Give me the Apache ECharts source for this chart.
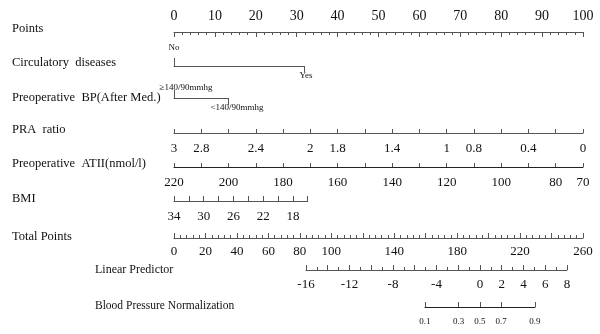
<!DOCTYPE html>
<html>
<head>
<meta charset="utf-8">
<script src="https://cdn.jsdelivr.net/npm/echarts@6/dist/echarts.min.js"></script>
<style>
  html, body { margin: 0; padding: 0; background: #fff; }
  #nomogram { width: 600px; height: 334px; }
</style>
</head>
<body>
<div id="nomogram"></div>
<script>
// values
var pointsRange = [0, 100];
var circLevels = ['No', 'Yes'];
var circPoints = [0, 31.8];
var bpLevels = ['\u2265140/90mmhg', '<140/90mmhg'];
var bpPoints = [0, 13.2];
var praRange = [3, 0];
var praLabels = [3, 2.8, 2.4, 2, 1.8, 1.4, 1, 0.8, 0.4, 0];
var atiiRange = [220, 70];
var atiiLabels = [220, 200, 180, 160, 140, 120, 100, 80, 70];
var bmiRange = [34, 16];
var bmiPoints = [0, 32.7];
var bmiLabels = [34, 30, 26, 22, 18];
var totalRange = [0, 260];
var totalLabels = [0, 20, 40, 60, 80, 100, 140, 180, 220, 260];
var lpRange = [-16, 8];
var lpTotalPoints = [83.9, 249.8];
var lpLabels = [-16, -12, -8, -4, 0, 2, 4, 6, 8];
var probTicks = [0.1, 0.3, 0.5, 0.7, 0.9];
var probLP = [-5.06, 5.06];

var rowNames = ['Points', 'Circulatory  diseases', 'Preoperative  BP(After Med.)', 'PRA  ratio',
    'Preoperative  ATII(nmol/l)', 'BMI', 'Total Points', 'Linear Predictor', 'Blood Pressure Normalization'];

// layout
var X0 = 174, X1 = 583;
var pxPoint = (X1 - X0) / (pointsRange[1] - pointsRange[0]);
var pxTotal = (X1 - X0) / (totalRange[1] - totalRange[0]);
var lpLeft = X0 + lpTotalPoints[0] * pxTotal;
var pxLP = (lpTotalPoints[1] - lpTotalPoints[0]) * pxTotal / (lpRange[1] - lpRange[0]);
var rowY = [32, 66, 98, 133, 167, 201, 238, 270, 307];
var nameY = [29, 63, 98, 130, 164, 199, 237, 270, 306];
var nameX = [12, 12, 12, 12, 12, 12, 12, 95, 95];
var nameSize = [12.5, 12.5, 12.5, 12.5, 12.5, 12.5, 12.5, 12, 11.5];

var font = 'Liberation Serif';
var ink = '#111';
var lineColor = '#555';

var grids = [], xAxes = [], yAxes = [];

function addGrid(top, left, width) {
    grids.push({ left: left, top: top, width: width, height: 0, containLabel: false, outerBoundsMode: 'none' });
    var gi = grids.length - 1;
    yAxes.push({ gridIndex: gi, type: 'value', show: false, min: 0, max: 1 });
    return gi;
}

function inList(list, v) {
    return list.some(function (x) { return Math.abs(x - v) < 1e-6; });
}

function numAxis(gi, pos, min, max, interval, inverse, labels, opts) {
    opts = opts || {};
    return {
        gridIndex: gi, type: 'value', position: pos, min: min, max: max, interval: interval, inverse: inverse,
        splitLine: { show: false },
        axisLine: { show: true, lineStyle: { color: opts.lineColor || lineColor, width: 1 } },
        axisTick: { show: true, inside: true, length: opts.tick || 4, lineStyle: { color: lineColor } },
        minorTick: { show: !!opts.minor, splitNumber: opts.minor || 5, length: opts.minorLen || 2, lineStyle: { color: lineColor } },
        axisLabel: {
            color: ink, fontFamily: font, fontSize: opts.fontSize || 13, margin: opts.margin || 8,
            showMinLabel: true, showMaxLabel: true, hideOverlap: false,
            formatter: function (v) { return inList(labels, v) ? String(Math.round(v * 100) / 100) : ''; }
        }
    };
}

function levelAxis(gi, pos, max, at, text, tickLen, margin, shift) {
    return {
        gridIndex: gi, type: 'value', position: pos, min: 0, max: max,
        splitLine: { show: false },
        axisLine: { show: pos === 'top', lineStyle: { color: lineColor, width: 1 } },
        axisTick: { show: true, inside: false, length: tickLen, customValues: [at], lineStyle: { color: lineColor } },
        axisLabel: {
            color: ink, fontFamily: font, fontSize: 9, margin: margin, customValues: [at],
            showMinLabel: true, showMaxLabel: true, hideOverlap: false,
            padding: [0, 0, 0, shift * 2],
            formatter: function () { return text; }
        }
    };
}

// Points
var g = addGrid(rowY[0], X0, X1 - X0);
xAxes.push(numAxis(g, 'top', pointsRange[0], pointsRange[1], 10, false,
    [0, 10, 20, 30, 40, 50, 60, 70, 80, 90, 100], { fontSize: 14, margin: 9, tick: 5, minor: 5, minorLen: 3 }));

// Circulatory diseases
g = addGrid(rowY[1], X0 + circPoints[0] * pxPoint, (circPoints[1] - circPoints[0]) * pxPoint);
xAxes.push(levelAxis(g, 'top', circPoints[1], circPoints[0], circLevels[0], 8, 14, 0));
xAxes.push(levelAxis(g, 'bottom', circPoints[1], circPoints[1], circLevels[1], 6, 5, 2));

// Preoperative BP
g = addGrid(rowY[2], X0 + bpPoints[0] * pxPoint, (bpPoints[1] - bpPoints[0]) * pxPoint);
xAxes.push(levelAxis(g, 'top', bpPoints[1], bpPoints[0], bpLevels[0], 8, 6, 12));
xAxes.push(levelAxis(g, 'bottom', bpPoints[1], bpPoints[1], bpLevels[1], 7, 5, 9));

// PRA ratio
g = addGrid(rowY[3], X0, X1 - X0);
xAxes.push(numAxis(g, 'bottom', praRange[1], praRange[0], 0.2, true, praLabels, { margin: 9 }));

// Preoperative ATII
g = addGrid(rowY[4], X0, X1 - X0);
xAxes.push(numAxis(g, 'bottom', atiiRange[1], atiiRange[0], 10, true, atiiLabels, { margin: 9, lineColor: '#222' }));

// BMI
g = addGrid(rowY[5], X0 + bmiPoints[0] * pxPoint, (bmiPoints[1] - bmiPoints[0]) * pxPoint);
xAxes.push(numAxis(g, 'bottom', bmiRange[1], bmiRange[0], 2, true, bmiLabels, { margin: 9, tick: 5 }));

// Total Points
g = addGrid(rowY[6], X0, X1 - X0);
xAxes.push(numAxis(g, 'bottom', totalRange[0], totalRange[1], 20, false, totalLabels,
    { margin: 7, tick: 5, minor: 5, minorLen: 3 }));

// Linear Predictor
g = addGrid(rowY[7], lpLeft, (lpRange[1] - lpRange[0]) * pxLP);
xAxes.push(numAxis(g, 'bottom', lpRange[0], lpRange[1], 2, false, lpLabels,
    { margin: 8, tick: 5, minor: 2, minorLen: 3 }));

// Blood Pressure Normalization (probability on logit scale)
var logit = function (p) { return Math.log(p / (1 - p)); };
var probLogit = probTicks.map(logit);
g = addGrid(rowY[8], lpLeft + (probLP[0] - lpRange[0]) * pxLP, (probLP[1] - probLP[0]) * pxLP);
xAxes.push({
    gridIndex: g, type: 'value', position: 'bottom',
    min: probLogit[0], max: probLogit[probLogit.length - 1],
    splitLine: { show: false },
    axisLine: { show: true, lineStyle: { color: '#222', width: 1 } },
    axisTick: { show: true, inside: true, length: 5, customValues: probLogit, lineStyle: { color: lineColor } },
    axisLabel: {
        color: ink, fontFamily: font, fontSize: 9, margin: 10, customValues: probLogit,
        showMinLabel: true, showMaxLabel: true, hideOverlap: false,
        formatter: function (v) { return (1 / (1 + Math.exp(-v))).toFixed(1); }
    }
});

var graphic = rowNames.map(function (name, i) {
    return {
        type: 'text', x: nameX[i], y: nameY[i],
        style: { text: name, fill: ink, font: nameSize[i] + 'px "' + font + '"', verticalAlign: 'middle', align: 'left' }
    };
});

var myChart = echarts.init(document.getElementById('nomogram'), null, { renderer: 'canvas' });
myChart.setOption({
    animation: false,
    backgroundColor: '#fff',
    grid: grids,
    xAxis: xAxes,
    yAxis: yAxes,
    graphic: graphic,
    series: []
});
</script>
</body>
</html>
